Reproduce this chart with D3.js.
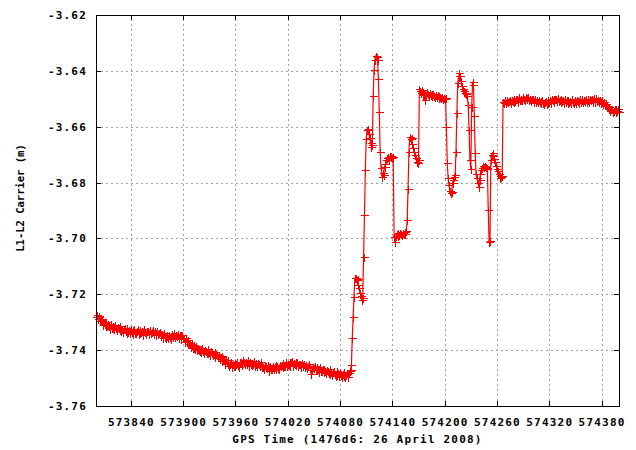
<!DOCTYPE html>
<html><head><meta charset="utf-8">
<script src="https://cdn.jsdelivr.net/npm/d3@7"></script>
<style>
html,body{margin:0;padding:0;background:#fff;}
svg{display:block;}
</style></head><body>
<svg id="chart" width="636" height="450"></svg>
<script>
// GPS time of the first sample and the sampling step (seconds)
const timeStart = 573800;
const timeStep = 1;
// L1-L2 carrier (m), one value per second
const carrier = [
-3.7280,-3.7273,-3.7288,-3.7282,-3.7279,-3.7294,-3.7293,-3.7290,-3.7309,-3.7298,
-3.7307,-3.7299,-3.7315,-3.7315,-3.7306,-3.7312,-3.7324,-3.7307,-3.7321,-3.7320,
-3.7314,-3.7325,-3.7311,-3.7322,-3.7329,-3.7316,-3.7321,-3.7328,-3.7315,-3.7331,
-3.7326,-3.7335,-3.7324,-3.7322,-3.7331,-3.7339,-3.7322,-3.7334,-3.7329,-3.7338,
-3.7326,-3.7335,-3.7341,-3.7329,-3.7323,-3.7337,-3.7339,-3.7331,-3.7325,-3.7342,
-3.7338,-3.7328,-3.7336,-3.7330,-3.7344,-3.7326,-3.7334,-3.7341,-3.7333,-3.7331,
-3.7333,-3.7343,-3.7329,-3.7339,-3.7336,-3.7328,-3.7342,-3.7339,-3.7333,-3.7347,
-3.7332,-3.7343,-3.7339,-3.7334,-3.7349,-3.7347,-3.7342,-3.7355,-3.7339,-3.7354,
-3.7356,-3.7348,-3.7344,-3.7358,-3.7346,-3.7352,-3.7360,-3.7341,-3.7353,-3.7344,
-3.7340,-3.7353,-3.7347,-3.7350,-3.7341,-3.7356,-3.7347,-3.7345,-3.7360,-3.7347,
-3.7358,-3.7355,-3.7370,-3.7357,-3.7372,-3.7377,-3.7363,-3.7378,-3.7376,-3.7387,
-3.7379,-3.7394,-3.7382,-3.7392,-3.7396,-3.7385,-3.7401,-3.7395,-3.7398,-3.7404,
-3.7395,-3.7405,-3.7394,-3.7404,-3.7411,-3.7399,-3.7404,-3.7411,-3.7396,-3.7411,
-3.7405,-3.7416,-3.7403,-3.7406,-3.7417,-3.7415,-3.7406,-3.7426,-3.7413,-3.7417,
-3.7424,-3.7417,-3.7433,-3.7426,-3.7422,-3.7439,-3.7437,-3.7433,-3.7449,-3.7435,
-3.7443,-3.7437,-3.7451,-3.7455,-3.7448,-3.7442,-3.7462,-3.7451,-3.7455,-3.7446,
-3.7458,-3.7449,-3.7443,-3.7454,-3.7459,-3.7444,-3.7441,-3.7449,-3.7454,-3.7437,
-3.7441,-3.7451,-3.7444,-3.7450,-3.7436,-3.7455,-3.7447,-3.7441,-3.7450,-3.7452,
-3.7450,-3.7440,-3.7455,-3.7445,-3.7449,-3.7458,-3.7445,-3.7450,-3.7457,-3.7444,
-3.7461,-3.7452,-3.7459,-3.7466,-3.7453,-3.7458,-3.7465,-3.7454,-3.7473,-3.7459,
-3.7458,-3.7466,-3.7469,-3.7455,-3.7466,-3.7460,-3.7452,-3.7469,-3.7457,-3.7464,
-3.7468,-3.7453,-3.7458,-3.7453,-3.7462,-3.7447,-3.7456,-3.7457,-3.7442,-3.7457,
-3.7448,-3.7454,-3.7441,-3.7456,-3.7443,-3.7440,-3.7456,-3.7445,-3.7450,-3.7442,
-3.7453,-3.7442,-3.7456,-3.7449,-3.7448,-3.7460,-3.7447,-3.7455,-3.7454,-3.7451,
-3.7462,-3.7452,-3.7465,-3.7456,-3.7451,-3.7464,-3.7460,-3.7485,-3.7472,-3.7459,
-3.7465,-3.7456,-3.7471,-3.7470,-3.7461,-3.7466,-3.7477,-3.7459,-3.7474,-3.7473,
-3.7468,-3.7479,-3.7466,-3.7476,-3.7483,-3.7470,-3.7475,-3.7481,-3.7468,-3.7485,
-3.7479,-3.7488,-3.7477,-3.7475,-3.7484,-3.7493,-3.7475,-3.7488,-3.7483,-3.7491,
-3.7480,-3.7489,-3.7495,-3.7484,-3.7478,-3.7493,-3.7495,-3.7488,-3.7482,-3.7496,
-3.7482,-3.7476,-3.7470,-3.7453,-3.7357,-3.7280,-3.7208,-3.7142,-3.7140,-3.7150,
-3.7147,-3.7168,-3.7178,-3.7196,-3.7205,-3.7220,-3.7212,-3.7065,-3.6916,-3.6755,
-3.6645,-3.6612,-3.6608,-3.6625,-3.6640,-3.6660,-3.6673,-3.6665,-3.6490,-3.6397,
-3.6360,-3.6347,-3.6352,-3.6361,-3.6430,-3.6546,-3.6689,-3.6749,-3.6779,-3.6767,
-3.6772,-3.6743,-3.6735,-3.6719,-3.6712,-3.6707,-3.6714,-3.6705,-3.6710,-3.6706,
-3.6713,-3.6710,-3.6994,-3.7012,-3.6992,-3.6985,-3.6990,-3.6982,-3.6986,-3.6979,
-3.6984,-3.6988,-3.6981,-3.6985,-3.6978,-3.6983,-3.6975,-3.6934,-3.6823,-3.6689,
-3.6636,-3.6645,-3.6640,-3.6662,-3.6675,-3.6690,-3.6700,-3.6712,-3.6726,-3.6730,
-3.6720,-3.6466,-3.6472,-3.6480,-3.6470,-3.6485,-3.6478,-3.6505,-3.6480,-3.6488,
-3.6476,-3.6484,-3.6490,-3.6480,-3.6487,-3.6482,-3.6491,-3.6484,-3.6489,-3.6495,
-3.6486,-3.6492,-3.6488,-3.6496,-3.6490,-3.6494,-3.6498,-3.6492,-3.6500,-3.6496,
-3.6502,-3.6498,-3.6600,-3.6731,-3.6785,-3.6810,-3.6830,-3.6838,-3.6833,-3.6803,
-3.6790,-3.6779,-3.6772,-3.6689,-3.6550,-3.6445,-3.6420,-3.6409,-3.6418,-3.6438,
-3.6455,-3.6466,-3.6472,-3.6478,-3.6482,-3.6478,-3.6490,-3.6522,-3.6612,-3.6719,
-3.6752,-3.6530,-3.6439,-3.6452,-3.6561,-3.6695,-3.6769,-3.6785,-3.6800,-3.6815,
-3.6790,-3.6768,-3.6755,-3.6748,-3.6742,-3.6746,-3.6741,-3.6744,-3.6747,-3.6750,
-3.6898,-3.7012,-3.7008,-3.6720,-3.6700,-3.6695,-3.6705,-3.6715,-3.6728,-3.6740,
-3.6752,-3.6760,-3.6768,-3.6778,-3.6784,-3.6780,-3.6776,-3.6510,
-3.6515,-3.6506,-3.6515,-3.6507,-3.6503,-3.6511,-3.6508,-3.6503,-3.6516,-3.6504,
-3.6509,-3.6500,-3.6511,-3.6508,-3.6500,-3.6502,-3.6510,-3.6495,-3.6506,-3.6504,
-3.6499,-3.6506,-3.6494,-3.6502,-3.6505,-3.6494,-3.6496,-3.6502,-3.6492,-3.6505,
-3.6501,-3.6508,-3.6500,-3.6499,-3.6507,-3.6513,-3.6500,-3.6510,-3.6506,-3.6513,
-3.6504,-3.6512,-3.6516,-3.6508,-3.6504,-3.6516,-3.6518,-3.6512,-3.6507,-3.6518,
-3.6514,-3.6505,-3.6511,-3.6505,-3.6516,-3.6501,-3.6506,-3.6510,-3.6502,-3.6500,
-3.6500,-3.6509,-3.6498,-3.6507,-3.6504,-3.6499,-3.6510,-3.6508,-3.6503,-3.6515,
-3.6502,-3.6511,-3.6506,-3.6503,-3.6514,-3.6512,-3.6507,-3.6516,-3.6501,-3.6512,
-3.6514,-3.6507,-3.6503,-3.6514,-3.6505,-3.6509,-3.6515,-3.6501,-3.6510,-3.6503,
-3.6500,-3.6511,-3.6506,-3.6509,-3.6500,-3.6511,-3.6503,-3.6502,-3.6513,-3.6499,
-3.6506,-3.6501,-3.6510,-3.6498,-3.6508,-3.6510,-3.6498,-3.6508,-3.6504,-3.6512,
-3.6504,-3.6514,-3.6503,-3.6513,-3.6517,-3.6511,-3.6524,-3.6520,-3.6525,-3.6531,
-3.6536,-3.6531,-3.6543,-3.6538,-3.6537,-3.6549,-3.6544,-3.6538,-3.6549,-3.6537,
-3.6543,-3.6535,-3.6547
];
const xTicks = [573840, 573900, 573960, 574020, 574080, 574140, 574200, 574260, 574320, 574380];
const yTicks = [-3.76, -3.74, -3.72, -3.70, -3.68, -3.66, -3.64, -3.62];
const xTitle = "GPS Time (1476d6: 26 April 2008)";
const yTitle = "L1-L2 Carrier (m)";

const L = 96, R = 619, T = 15, B = 406;
const FONT = "'DejaVu Sans Mono', monospace";
const svg = d3.select("#chart");

const points = carrier.map((v, i) => ({ t: timeStart + i * timeStep, v }));
const x = d3.scaleLinear().domain(d3.extent(points, d => d.t)).range([L, R]);
const y = d3.scaleLinear().domain([yTicks[0], yTicks[yTicks.length - 1]]).range([B, T]);

// grid
const grid = svg.append("g").attr("stroke", "#a0a0a0").attr("stroke-width", 1)
  .attr("stroke-dasharray", "2,3").attr("shape-rendering", "crispEdges");
grid.selectAll("line.gx").data(xTicks).join("line")
  .attr("x1", d => Math.round(x(d)) + 0.5).attr("x2", d => Math.round(x(d)) + 0.5)
  .attr("y1", B).attr("y2", T);
grid.selectAll("line.gy").data(yTicks.slice(1, -1)).join("line")
  .attr("y1", d => Math.round(y(d)) + 0.5).attr("y2", d => Math.round(y(d)) + 0.5)
  .attr("x1", L).attr("x2", R);

function styleAxis(g, showText) {
  g.select(".domain").remove();
  g.selectAll(".tick line").attr("stroke", "#000").attr("shape-rendering", "crispEdges");
  g.attr("font-family", FONT).attr("font-size", 11).attr("font-weight", "bold");
  g.selectAll(".tick text").attr("fill", "#000").attr("letter-spacing", "1.2px");
  if (!showText) g.selectAll(".tick text").remove();
}

svg.append("g").attr("transform", `translate(0,${B})`)
  .call(d3.axisBottom(x).tickValues(xTicks).tickSizeInner(-5).tickSizeOuter(0).tickPadding(12).tickFormat(d => String(d)))
  .call(g => styleAxis(g, true));
svg.append("g").attr("transform", `translate(0,${T})`)
  .call(d3.axisTop(x).tickValues(xTicks).tickSizeInner(-5).tickSizeOuter(0))
  .call(g => styleAxis(g, false));
svg.append("g").attr("transform", `translate(${L},0)`)
  .call(d3.axisLeft(y).tickValues(yTicks).tickSizeInner(-5).tickSizeOuter(0).tickPadding(9).tickFormat(d => d.toFixed(2)))
  .call(g => styleAxis(g, true));
svg.append("g").attr("transform", `translate(${R},0)`)
  .call(d3.axisRight(y).tickValues(yTicks).tickSizeInner(-5).tickSizeOuter(0))
  .call(g => styleAxis(g, false));

// data line + markers
svg.append("path").datum(points)
  .attr("d", d3.line().x(d => x(d.t)).y(d => y(d.v)))
  .attr("fill", "none").attr("stroke", "#ff0000").attr("stroke-width", 1.2);
svg.append("g").attr("stroke", "#ff0000").attr("stroke-width", 1).attr("shape-rendering", "crispEdges")
  .selectAll("path").data(points).join("path")
  .attr("d", d => {
    const px = Math.round(x(d.t)) + 0.5, py = Math.round(y(d.v)) + 0.5;
    return `M${px - 4},${py}H${px + 4}M${px},${py - 4}V${py + 4}`;
  });

// border
svg.append("rect").attr("x", L + 0.5).attr("y", T + 0.5).attr("width", R - L).attr("height", B - T)
  .attr("fill", "none").attr("stroke", "#000").attr("stroke-width", 1).attr("shape-rendering", "crispEdges");

// titles
svg.append("text").attr("x", (L + R) / 2).attr("y", 443).attr("text-anchor", "middle")
  .attr("font-family", FONT).attr("font-size", 11).attr("font-weight", "bold").attr("letter-spacing", "1.2px")
  .text(xTitle);
svg.append("text").attr("transform", `translate(24,198) rotate(-90)`).attr("text-anchor", "middle")
  .attr("font-family", FONT).attr("font-size", 10.5).attr("font-weight", "bold")
  .text(yTitle);
</script>
</body></html>
